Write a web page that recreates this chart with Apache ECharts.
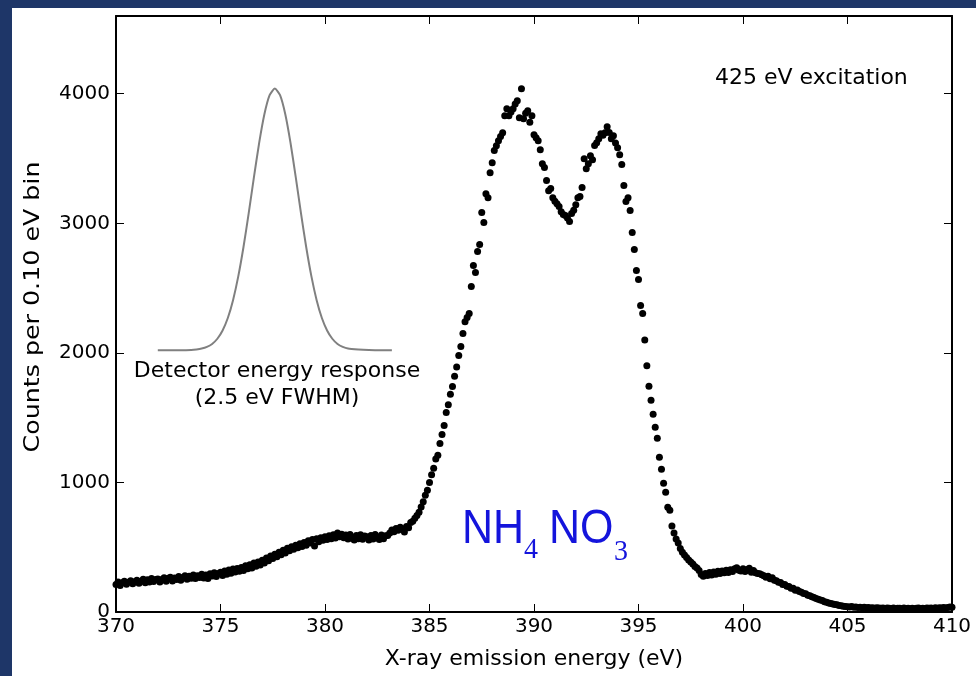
<!DOCTYPE html>
<html>
<head>
<meta charset="utf-8">
<title>NH4NO3 emission spectrum</title>
<script src="https://cdn.jsdelivr.net/npm/echarts@6/dist/echarts.min.js"></script>
<style>
  html, body { margin: 0; padding: 0; background: #ffffff; }
  #chartBox { width: 976px; height: 676px; }
</style>
</head>
<body>
<div id="chartBox"></div>
<script>
// energy bins: 0.10 eV wide, first bin at 370.0 eV
var binStart = 370.0;
var binWidth = 0.1;

// counts per bin (370.0 ... 410.0 eV)
var counts = [
  212, 232, 205, 226, 238, 214, 230, 242, 218, 234,
  246, 222, 238, 252, 226, 248, 232, 258, 236, 250,
  255, 232, 250, 264, 238, 260, 268, 240, 262, 250,
  274, 246, 266, 280, 252, 276, 260, 286, 258, 280,
  266, 292, 262, 286, 258, 296, 278, 302, 274, 298,
  306, 282, 316, 292, 324, 300, 332, 308, 336, 314,
  344, 320, 356, 334, 364, 340, 378, 354, 386, 362,
  400, 378, 416, 396, 432, 412, 446, 426, 462, 442,
  476, 456, 492, 472, 504, 484, 516, 496, 526, 506,
  536, 516, 550, 532, 560, 510, 566, 542, 574, 554,
  580, 560, 588, 566, 596, 572, 610, 580, 600, 574,
  594, 564, 598, 570, 556, 590, 566, 596, 562, 586,
  580, 556, 590, 564, 598, 572, 560, 594, 566, 588,
  590, 610, 632, 620, 645, 630, 655, 640, 617, 660,
  650, 690, 700, 724, 745, 770, 810, 850, 902, 940,
  1000, 1060, 1110, 1180, 1210, 1300, 1370, 1440, 1540, 1600,
  1680, 1740, 1820, 1890, 1980, 2050, 2150, 2240, 2273, 2304,
  2512, 2674, 2620, 2782, 2836, 3083, 3006, 3229, 3198, 3391,
  3468, 3561, 3599, 3638, 3670, 3699, 3830, 3884, 3830, 3860,
  3884, 3920, 3946, 3815, 4038, 3807, 3850, 3869, 3780, 3830,
  3684, 3660, 3638, 3568, 3460, 3430, 3330, 3252, 3268, 3198,
  3170, 3150, 3129, 3090, 3067, 3060, 3040, 3013, 3075, 3100,
  3144, 3198, 3206, 3276, 3499, 3422, 3460, 3522, 3491, 3600,
  3622, 3653, 3692, 3680, 3699, 3746, 3700, 3653, 3676, 3620,
  3584, 3530, 3453, 3291, 3168, 3198, 3098, 2929, 2798, 2636,
  2566, 2366, 2304, 2100, 1900, 1742, 1634, 1526, 1426, 1341,
  1195, 1102, 994, 925, 809, 786, 663, 609, 563, 532,
  490, 462, 439, 420, 401, 385, 370, 352, 340, 320,
  290, 276, 298, 282, 304, 286, 308, 292, 314, 298,
  316, 302, 322, 304, 326, 312, 334, 342, 322, 316,
  334, 312, 328, 338, 306, 320, 302, 298, 296, 288,
  280, 268, 276, 256, 264, 246, 242, 230, 228, 212,
  212, 198, 197, 183, 184, 168, 170, 158, 152, 143,
  140, 130, 126, 118, 112, 105, 98, 92, 88, 80,
  76, 70, 66, 62, 58, 55, 50, 48, 45, 42,
  40, 38, 42, 36, 38, 34, 37, 33, 36, 32,
  34, 30, 33, 29, 32, 30, 28, 31, 27, 30,
  29, 27, 31, 26, 29, 28, 25, 30, 27, 28,
  26, 29, 25, 28, 30, 26, 29, 27, 31, 28,
  30, 27, 32, 29, 33, 30, 35, 31, 34, 38,
  36
];

// detector response curve (inset, drawn in data units)
var gaussEnergy = [
  372.0, 372.6, 373.1, 373.6, 373.85, 374.1, 374.35, 374.6, 374.85, 375.1,
  375.35, 375.6, 375.85, 376.1, 376.35, 376.6, 376.85, 377.1, 377.35, 377.6,
  377.85, 378.1, 378.35, 378.6, 378.85, 379.1, 379.35, 379.6, 379.85, 380.1,
  380.35, 380.6, 380.85, 381.1, 381.6, 382.1, 382.6, 383.2
];
var gaussCounts = [
  2020, 2020, 2020, 2022, 2026, 2033, 2046, 2069, 2109, 2173,
  2269, 2407, 2590, 2817, 3079, 3356, 3621, 3842, 3989, 4040,
  3989, 3842, 3621, 3356, 3079, 2817, 2590, 2407, 2269, 2173,
  2109, 2069, 2046, 2033, 2026, 2022, 2020, 2020
];

var xTicks = [370, 375, 380, 385, 390, 395, 400, 405, 410];
var yTicks = [0, 1000, 2000, 3000, 4000];

var spectrum = counts.map(function (c, i) {
  return [+(binStart + i * binWidth).toFixed(1), c];
});
var response = gaussEnergy.map(function (e, i) { return [e, gaussCounts[i]]; });

var baseFont = 'DejaVu Sans';
var frameLine = { show: true, onZero: false, lineStyle: { color: '#000', width: 2 } };
var innerTick = { show: true, inside: true, length: 8, lineStyle: { color: '#000', width: 1 } };

function label(txt, x, y, size, align, extra) {
  var el = {
    type: 'text', x: x, y: y,
    style: { text: txt, font: size + 'px "DejaVu Sans"', fill: '#000',
             align: align, verticalAlign: 'middle', textAlign: align, textVerticalAlign: 'middle' }
  };
  for (var k in extra) el[k] = extra[k];
  return el;
}

function chem(txt, x, y, font, sy) {
  return {
    type: 'text', x: x, y: y, scaleY: sy,
    style: { text: txt, font: font, fill: '#1414dc',
             align: 'left', verticalAlign: 'middle', textAlign: 'left', textVerticalAlign: 'middle' }
  };
}

var chart = echarts.init(document.getElementById('chartBox'), null, { renderer: 'canvas' });

var option = {
  animation: false,
  backgroundColor: '#ffffff',
  grid: { left: 116, right: 24, top: 16, bottom: 64 },
  xAxis: [
    {
      type: 'value', position: 'bottom',
      min: xTicks[0], max: xTicks[xTicks.length - 1], interval: 5,
      name: 'X-ray emission energy (eV)', nameLocation: 'middle', nameGap: 36,
      nameTextStyle: { fontFamily: baseFont, fontSize: 22, color: '#000' },
      axisLine: frameLine, axisTick: innerTick, splitLine: { show: false },
      axisLabel: { fontFamily: baseFont, fontSize: 20, color: '#000', margin: 5 }
    },
    {
      type: 'value', position: 'top',
      min: xTicks[0], max: xTicks[xTicks.length - 1], interval: 5,
      axisLine: frameLine, axisTick: innerTick, splitLine: { show: false },
      axisLabel: { show: false }
    }
  ],
  yAxis: [
    {
      type: 'value', position: 'left',
      min: 0, max: 4600, interval: 1000,
      axisLine: frameLine, axisTick: innerTick, splitLine: { show: false },
      axisLabel: {
        fontFamily: baseFont, fontSize: 20, color: '#000', margin: 6,
        formatter: function (v) { return yTicks.indexOf(v) >= 0 ? String(v) : ''; }
      }
    },
    {
      type: 'value', position: 'right',
      min: 0, max: 4600, interval: 1000,
      axisLine: frameLine, axisTick: innerTick, splitLine: { show: false },
      axisLabel: { show: false }
    }
  ],
  series: [
    {
      name: 'Detector energy response',
      type: 'line',
      data: response,
      showSymbol: false,
      smooth: 0.2,
      lineStyle: { color: '#808080', width: 2 },
      z: 2
    },
    {
      name: 'NH4NO3',
      type: 'scatter',
      data: spectrum,
      symbol: 'circle',
      symbolSize: 7,
      itemStyle: { color: '#000', opacity: 1 },
      z: 3
    }
  ],
  graphic: [
    { type: 'rect', shape: { x: 0, y: 0, width: 976, height: 8 }, style: { fill: '#1e3668' }, z: 100 },
    { type: 'rect', shape: { x: 0, y: 0, width: 12, height: 676 }, style: { fill: '#1e3668' }, z: 100 },
    // y axis title, stretched along its length like the reference
    label('Counts per 0.10 eV bin', 33, 307, 22, 'center', { rotation: Math.PI / 2, scaleX: 1.15 }),
    label('425 eV excitation', 715, 78, 22, 'left', {}),
    label('Detector energy response', 277, 371, 22, 'center', {}),
    label('(2.5 eV FWHM)', 277, 398, 22, 'center', {}),
    chem('NH', 462, 530, '43px "Liberation Sans"', 1.12),
    chem('4', 524, 550, '28px "Liberation Serif"', 1.05),
    chem('NO', 549, 530, '43px "Liberation Sans"', 1.12),
    chem('3', 614, 552, '28px "Liberation Serif"', 1.05)
  ]
};

chart.setOption(option);
</script>
</body>
</html>
